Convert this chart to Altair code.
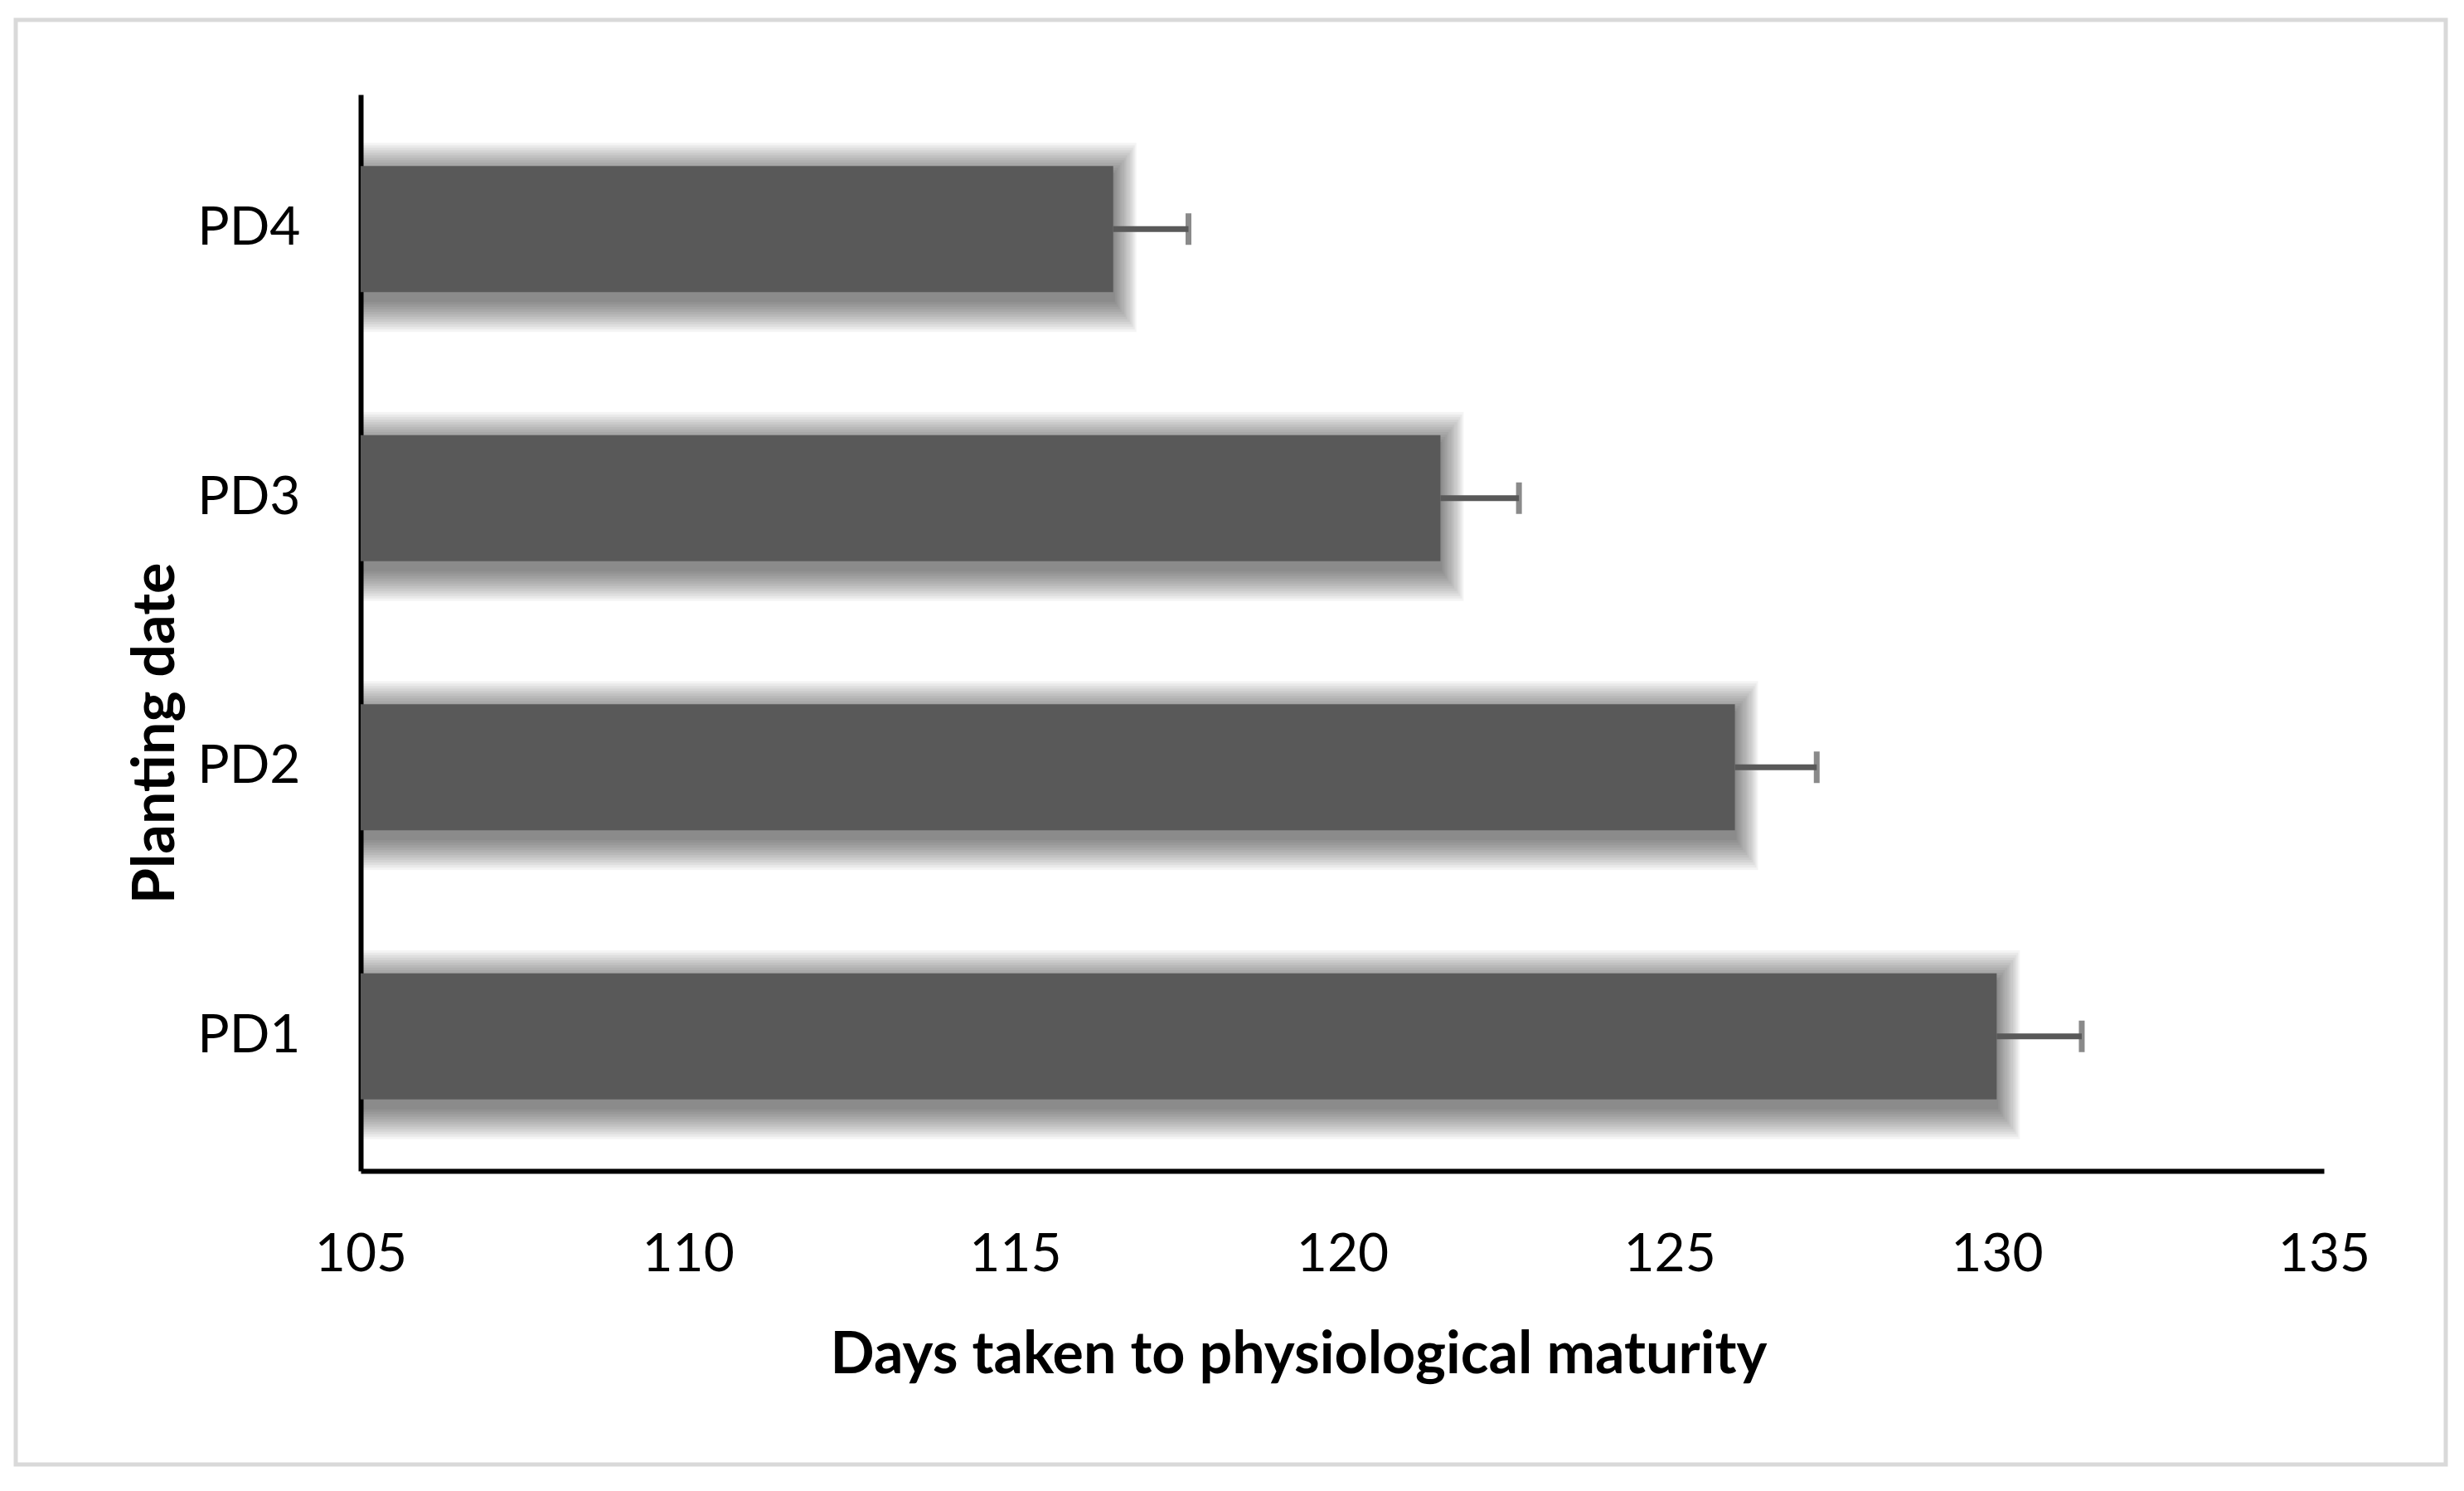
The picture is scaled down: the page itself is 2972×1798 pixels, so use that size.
import altair as alt
import pandas as pd

# Data
dates = ["PD1", "PD2", "PD3", "PD4"]
days = [130.0, 126.0, 121.5, 116.5]
errors = [1.3, 1.25, 1.2, 1.15]

df = pd.DataFrame({"date": dates, "days": days, "err": errors})
df["hi"] = df["days"] + df["err"]
df["base"] = 105

order = ["PD4", "PD3", "PD2", "PD1"]
FONT = "Lato"
BAR = "#595959"
W, H = 2368, 1298

yenc = alt.Y("date:N", sort=order,
             scale=alt.Scale(paddingInner=0.532, paddingOuter=0.266),
             axis=alt.Axis(title="Planting date", domain=True, domainColor="black",
                           domainWidth=6, ticks=False, tickSize=0, labelPadding=73,
                           labelFont=FONT, labelFontSize=64, labelColor="black",
                           titleFont=FONT, titleFontSize=70, titleFontWeight="bold",
                           titleColor="black", titleAngle=270, titleAlign="center",
                           titleBaseline="alphabetic", titleX=-226, titleY=770))
xscale = alt.Scale(domain=[105, 135], nice=False, zero=False)
xaxis = alt.Axis(title="Days taken to physiological maturity", values=[105, 110, 115, 120, 125, 130, 135],
                 grid=False, domain=True, domainColor="black", domainWidth=6,
                 ticks=False, tickSize=0, labelPadding=120, labelBaseline="alphabetic",
                 labelFont=FONT, labelFontSize=64, labelColor="black", labelFlush=False,
                 titleFont=FONT, titleFontSize=70, titleFontWeight="bold", titleColor="black",
                 titleAlign="center", titleBaseline="alphabetic", titleX=1131, titleY=243)

base = alt.Chart(df)

frame = base.mark_rect(fill=None, stroke="#d9d9d9", strokeWidth=5).encode(
    x=alt.value(19 - 435), x2=alt.value(2950 - 435),
    y=alt.value(24 - 114), y2=alt.value(1766 - 114)
).transform_filter(alt.datum.date == "PD1")

layers = [frame]
for k in range(2, 40, 3):
    layers.append(
        base.mark_bar(color="black", opacity=0.045, size=152 + 2 * k, yOffset=10,
                      x2Offset=round(0.75 * k)).encode(
            x=alt.X("base:Q", scale=xscale, axis=xaxis),
            x2="days:Q",
            y=yenc,
        )
    )

bars = base.mark_bar(color=BAR, size=152).encode(
    x=alt.X("base:Q", scale=xscale, axis=xaxis),
    x2="days:Q",
    y=yenc,
)
rules = base.mark_rule(color=BAR, strokeWidth=7).encode(
    x=alt.X("days:Q", scale=xscale, axis=xaxis), x2="hi:Q", y=yenc
)
caps = base.mark_tick(color=BAR, size=38, thickness=7).encode(
    x=alt.X("hi:Q", scale=xscale, axis=xaxis), y=yenc
)
layers += [bars, rules, caps]

chart = alt.layer(*layers).properties(
    width=W, height=H,
    background="white",
    autosize=alt.AutoSizeParams(type="none"),
    padding={"left": 427, "top": 106, "right": 150, "bottom": 380},
).configure_view(stroke="transparent", strokeWidth=0)

chart.save("out.html", embed_options={"renderer": "svg", "actions": False})
